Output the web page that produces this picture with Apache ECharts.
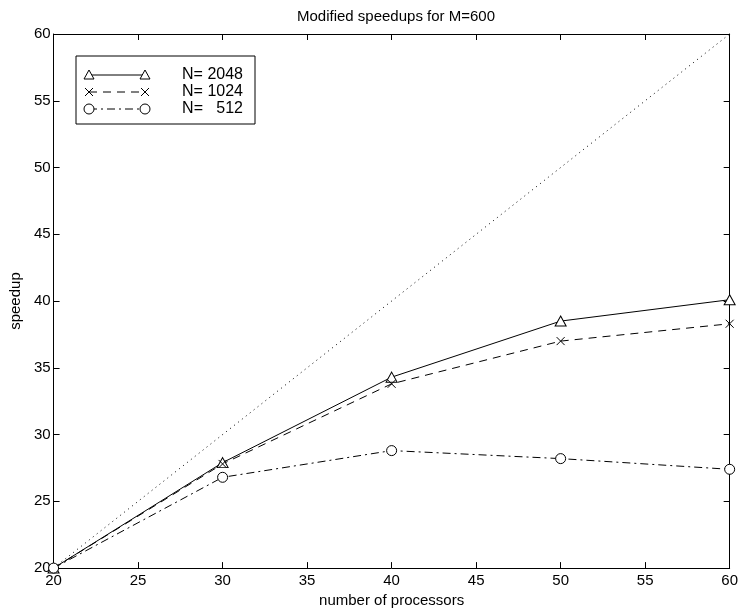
<!DOCTYPE html>
<html><head><meta charset="utf-8">
<script src="https://cdn.jsdelivr.net/npm/echarts@6/dist/echarts.min.js"></script>
<style>html,body{margin:0;padding:0;background:#fff}#c{width:741px;height:613px}</style>
</head><body><div id="c"></div>
<script>
var processors = [20, 30, 40, 50, 60];
var speedupN2048 = [20, 27.9, 34.3, 38.5, 40.1];
var speedupN1024 = [20, 27.8, 33.8, 37.0, 38.3];
var speedupN512 = [20, 26.8, 28.8, 28.2, 27.4];
var idealX = [20, 60];
var idealY = [20, 60];
var legendLabels = ['N= 2048', 'N= 1024', 'N=   512'];
var titleText = 'Modified speedups for M=600';

function pairs(xs, ys){ return xs.map(function(x,i){ return [x, ys[i]]; }); }
var FONT = 'Liberation Sans, Arial, sans-serif';
var chart = echarts.init(document.getElementById('c'));
var xMark = 'path://M0,0L10,10M10,0L0,10';

var axBase = {
  type: 'value', min: 20, max: 60, interval: 5,
  axisLine: {show: true, lineStyle: {color: '#000', width: 1}},
  axisTick: {show: true, inside: true, length: 6, lineStyle: {color: '#000'}},
  splitLine: {show: false}
};
function ax(extra){ return Object.assign({}, JSON.parse(JSON.stringify(axBase)), extra); }

var lx = 76, ly = 56;
var rows = [75, 92, 109];
var sx1 = 89, sx2 = 145;
var g = [
  {type:'rect', shape:{x:lx, y:ly, width:179, height:68}, style:{fill:'#fff', stroke:'#000', lineWidth:1}, z:10},
  {type:'line', shape:{x1:sx1, y1:rows[0], x2:sx2, y2:rows[0]}, style:{stroke:'#000', lineWidth:1}, z:11},
  {type:'line', shape:{x1:sx1, y1:rows[1], x2:sx2, y2:rows[1]}, style:{stroke:'#000', lineWidth:1, lineDash:[8,6]}, z:11},
  {type:'line', shape:{x1:sx1, y1:rows[2], x2:sx2, y2:rows[2]}, style:{stroke:'#000', lineWidth:1, lineDash:[8,4,2,4]}, z:11}
];
[sx1, sx2].forEach(function(x){
  g.push({type:'polygon', shape:{points:[[x, rows[0]-5],[x-5, rows[0]+4],[x+5, rows[0]+4]]}, style:{fill:'#fff', stroke:'#000', lineWidth:1}, z:12});
  g.push({type:'line', shape:{x1:x-4, y1:rows[1]-4, x2:x+4, y2:rows[1]+4}, style:{stroke:'#000', lineWidth:1}, z:12});
  g.push({type:'line', shape:{x1:x+4, y1:rows[1]-4, x2:x-4, y2:rows[1]+4}, style:{stroke:'#000', lineWidth:1}, z:12});
  g.push({type:'circle', shape:{cx:x, cy:rows[2], r:5}, style:{fill:'#fff', stroke:'#000', lineWidth:1}, z:12});
});
legendLabels.forEach(function(t, i){
  g.push({type:'text', x:243, y:rows[i], style:{text:t, font:'16px ' + FONT, fill:'#000', textAlign:'right', textVerticalAlign:'middle'}, z:12});
});

chart.setOption({
  animation: false,
  backgroundColor: '#fff',
  title: {text: titleText, left: 391, top: 4, textAlign: 'center',
    textStyle: {fontFamily: FONT, fontSize: 15, fontWeight: 'normal', color: '#000'}},
  grid: {left: 52, right: 10, top: 34, bottom: 44, containLabel: false},
  xAxis: [
    ax({position: 'bottom', name: 'number of processors', nameLocation: 'middle', nameGap: 24,
      nameTextStyle: {fontFamily: FONT, fontSize: 15, color: '#000'},
      axisLabel: {fontFamily: FONT, fontSize: 15, color: '#000', margin: 5}}),
    ax({position: 'top', axisLabel: {show: false}})
  ],
  yAxis: [
    ax({position: 'left', name: 'speedup', nameLocation: 'middle', nameGap: 27,
      nameTextStyle: {fontFamily: FONT, fontSize: 15, color: '#000'},
      axisLabel: {fontFamily: FONT, fontSize: 15, color: '#000', margin: 3}}),
    ax({position: 'right', axisLabel: {show: false}})
  ],
  series: [
    {type: 'line', data: pairs(idealX, idealY), symbol: 'none',
      lineStyle: {color: '#000', width: 1, type: [1, 4]}},
    {type: 'line', data: pairs(processors, speedupN2048), symbol: 'triangle', symbolSize: [11, 10],
      itemStyle: {color: '#fff', borderColor: '#000', borderWidth: 1},
      lineStyle: {color: '#000', width: 1, type: 'solid'}},
    {type: 'line', data: pairs(processors, speedupN1024), symbol: xMark, symbolSize: 8,
      itemStyle: {color: 'none', borderColor: '#000', borderWidth: 1},
      lineStyle: {color: '#000', width: 1, type: [8, 6]}},
    {type: 'line', data: pairs(processors, speedupN512), symbol: 'circle', symbolSize: 10,
      itemStyle: {color: '#fff', borderColor: '#000', borderWidth: 1},
      lineStyle: {color: '#000', width: 1, type: [8, 4, 2, 4]}}
  ],
  graphic: g
});
</script></body></html>
